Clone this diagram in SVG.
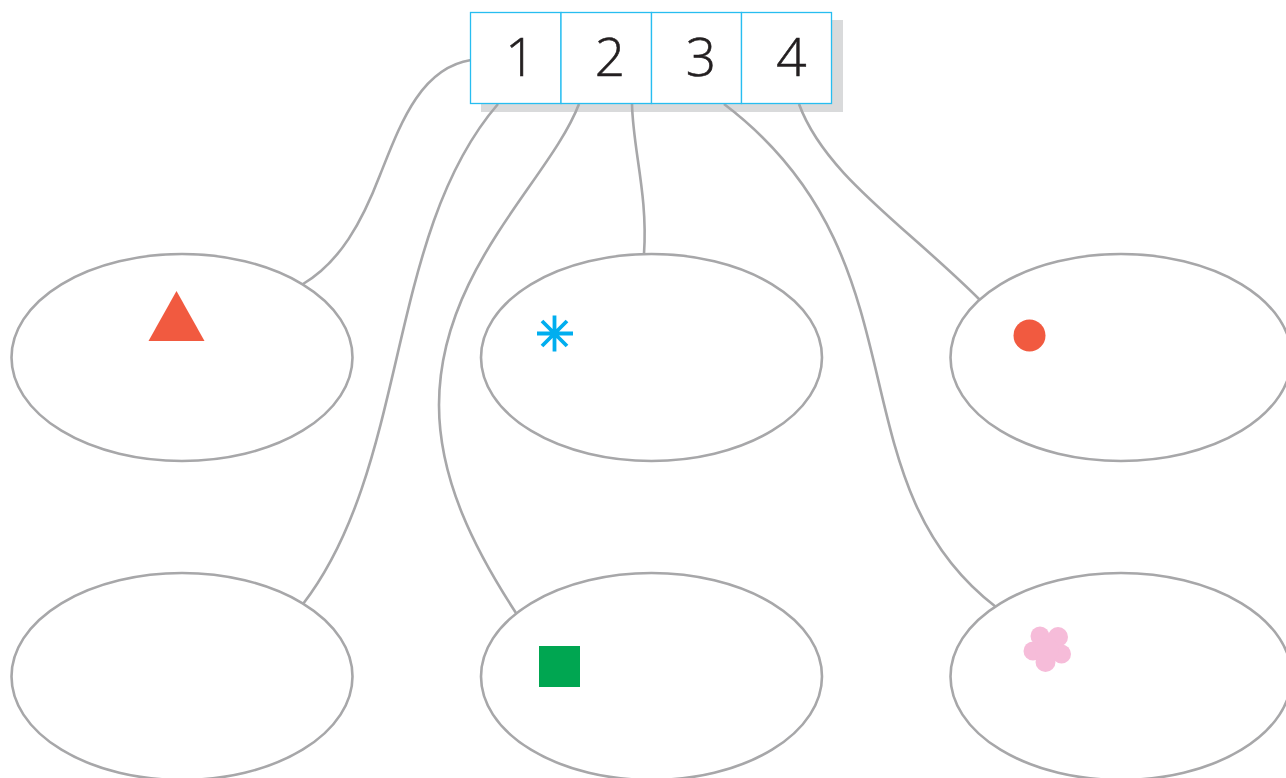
<svg xmlns="http://www.w3.org/2000/svg" width="1286" height="778" viewBox="0 0 1286 778">
<style>
.e{fill:#fff;stroke:#a7a7a9;stroke-width:2.6}
.c{fill:none;stroke:#a7a7a9;stroke-width:2.6}
.b{fill:#fff;stroke:#27bdf0;stroke-width:1.3}
.t{font-family:"Open Sans","Noto Sans",sans-serif;font-weight:300;font-size:53px;fill:#231f20;stroke:#231f20;stroke-width:.6;text-anchor:middle}
.s{stroke:#00aeef;stroke-width:3.8;fill:none}
</style>
<rect width="1286" height="778" fill="#fff"/>
<rect id="shadow" x="481" y="20" width="362" height="92" fill="#d9dadb"/>
<g id="connectors">
<path class="c" d="M471 60C420 68 400 125 380 175C362 222 340 262 303 284"/>
<path class="c" d="M498 104C385 235 410 465 303 604"/>
<path class="c" d="M579 104C550 180 439 270 439 405C439 480 475 550 516 613"/>
<path class="c" d="M632 104C633 150 648 195 644 254"/>
<path class="c" d="M724 104C930 260 830 480 996 607"/>
<path class="c" d="M799 104C825 175 905 225 980 300"/>
</g>
<g id="node-a"><ellipse class="e" cx="182" cy="357.500" rx="170.500" ry="103.500"/><polygon points="176.500,291 204.500,341 148.500,341" fill="#f15a40"/></g>
<g id="node-b"><ellipse class="e" cx="651.500" cy="357.500" rx="170.500" ry="103.500"/><path class="s" d="M554.500 315.500V351.500M537 333.500H573M542 321L567 346M567 321L542 346"/></g>
<g id="node-c"><ellipse class="e" cx="1121" cy="357.500" rx="170.500" ry="103.500"/><circle cx="1029.500" cy="335.500" r="16" fill="#f15a40"/></g>
<g id="node-d"><ellipse class="e" cx="182" cy="676.500" rx="170.500" ry="103.500"/></g>
<g id="node-e"><ellipse class="e" cx="651.500" cy="676.500" rx="170.500" ry="103.500"/><rect x="539" y="646" width="41" height="41" fill="#00a651"/></g>
<g id="node-f"><ellipse class="e" cx="1121" cy="676.500" rx="170.500" ry="103.500"/><g fill="#f6bcd9"><circle cx="1040" cy="636" r="9.500"/><circle cx="1058" cy="637" r="10"/><circle cx="1061.500" cy="654" r="9.500"/><circle cx="1045.500" cy="662" r="10"/><circle cx="1033" cy="651" r="9.500"/><circle cx="1047" cy="650" r="12"/></g></g>
<g id="node-table">
<rect class="b" x="470.500" y="12.500" width="90.500" height="91"/><rect class="b" x="561" y="12.500" width="90.500" height="91"/><rect class="b" x="651.500" y="12.500" width="90" height="91"/><rect class="b" x="741.500" y="12.500" width="90" height="91"/>
<text class="t" x="520.500" y="76">1</text><text class="t" x="610" y="76">2</text><text class="t" x="701" y="76">3</text><text class="t" x="791.500" y="76">4</text>
</g>
</svg>
